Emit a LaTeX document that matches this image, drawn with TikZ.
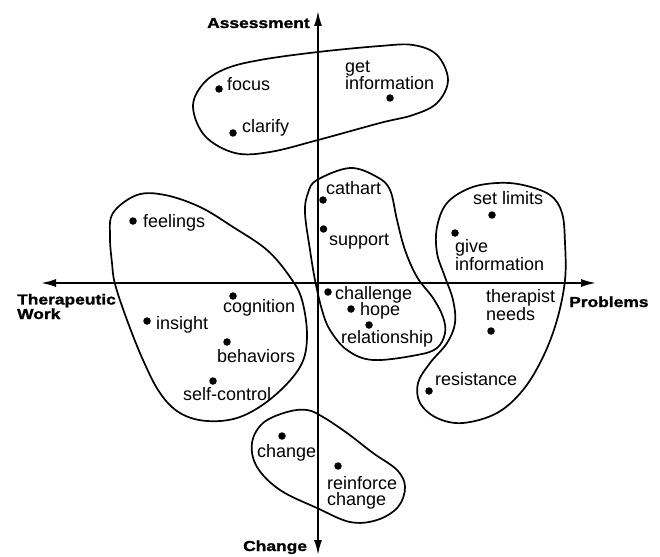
\documentclass[tikz,border=0pt]{standalone}
\usepackage{fontspec}
\setmainfont{Liberation Sans}
\newfontfamily\axisfont{Liberation Sans}[FakeStretch=1.2, BoldFeatures={FakeBold=1.5}]
\usetikzlibrary{arrows.meta}
\tikzset{
  dot/.style={circle, fill=black, inner sep=0pt, minimum size=7.5pt},
  lab/.style={inner sep=0pt, anchor=base west, align=left, font=\fontsize{18}{16}\selectfont},
  axlab/.style={inner sep=0pt, anchor=base west, align=left, font=\axisfont\bfseries\fontsize{14.5}{13.5}\selectfont},
  axis/.style={line width=1.8pt, -{Latex[length=15pt,width=8pt]}},
  blob/.style={line width=1.7pt}
}
\begin{document}
\begin{tikzpicture}[x=1pt,y=-1pt]
\useasboundingbox (0,0) rectangle (660,556);
% axes
\coordinate (origin) at (318,283);
\coordinate (up) at (318,11);
\coordinate (down) at (318,555);
\coordinate (left) at (41,283);
\coordinate (right) at (596,283);
\draw[axis] (origin) -- (up);
\draw[axis] (origin) -- (down);
\draw[axis] (origin) -- (left);
\draw[axis] (origin) -- (right);
\node[axlab] (assess) at (207,28) {Assessment};
\node[axlab] (chg) at (243,551) {Change};
\node[axlab] (ther) at (17,319) {Therapeutic\\Work};
\node[axlab] (prob) at (569,307) {Problems};
% blobs
\draw[blob] plot[smooth cycle, tension=0.6] coordinates {
 (193,107) (203,84) (225,69) (260,60) (318,52) (380,46) (413,45) (437,55) (448,80)
 (437,103) (413,115) (380,123) (318,140) (270,152) (235,153) (205,136)};
\draw[blob] plot[smooth cycle, tension=0.6] coordinates {
 (137,195) (113,213) (110,237) (112,263) (115,284) (127,320) (143,360) (160,393)
 (180,413) (207,421) (240,417) (273,397) (300,367) (307,337) (302,300) (290,277)
 (267,250) (233,227) (200,207) (165,195)};
\draw[blob] plot[smooth cycle, tension=0.6] coordinates {
 (350,168) (377,177) (390,190) (397,220) (405,250) (417,277) (433,298) (443,317)
 (445,333) (437,348) (417,355) (373,360) (347,350) (330,330) (322,310) (315,280)
 (310,250) (305,213) (308,193) (317,180)};
\draw[blob] plot[smooth cycle, tension=0.6] coordinates {
 (497,183) (523,185) (550,195) (562,213) (565,243) (565,280) (557,320) (543,357)
 (523,390) (497,413) (463,423) (437,418) (420,403) (418,383) (430,363) (447,343)
 (455,323) (453,300) (445,277) (437,253) (437,227) (447,203) (470,188)};
\draw[blob] plot[smooth cycle, tension=0.6] coordinates {
 (287,412) (263,423) (252,443) (257,467) (280,490) (317,508) (350,522) (377,520)
 (398,507) (405,487) (397,470) (373,453) (347,433) (323,417) (307,410)};
% items
\node[dot] (dfocus) at (219,89) {};
\node[lab] (tfocus) at (227,91) {focus};
\node[dot] (dclarify) at (233,133) {};
\node[lab] (tclarify) at (242,133) {clarify};
\node[dot] (dget) at (390,98) {};
\node[lab] (tget) at (345,90) {get\\information};
\node[dot] (dfeel) at (133,221) {};
\node[lab] (tfeel) at (143,227) {feelings};
\node[dot] (dcog) at (233,296) {};
\node[lab] (tcog) at (223,312) {cognition};
\node[dot] (dins) at (147,321) {};
\node[lab] (tins) at (156,329) {insight};
\node[dot] (dbeh) at (227,342) {};
\node[lab] (tbeh) at (217,362) {behaviors};
\node[dot] (dself) at (213,381) {};
\node[lab] (tself) at (183,400) {self-control};
\node[dot] (dcath) at (323,200) {};
\node[lab] (tcath) at (326,194) {cathart};
\node[dot] (dsup) at (323.5,229) {};
\node[lab] (tsup) at (329,245) {support};
\node[dot] (dchal) at (328,292) {};
\node[lab] (tchal) at (335,299) {challenge};
\node[dot] (dhope) at (351,309) {};
\node[lab] (thope) at (360,315) {hope};
\node[dot] (drel) at (369,325) {};
\node[lab] (trel) at (341,343) {relationship};
\node[dot] (dset) at (492,215) {};
\node[lab] (tset) at (473,204) {set limits};
\node[dot] (dgive) at (455,233) {};
\node[lab] (tgive) at (455,270) {give\\information};
\node[dot] (dther) at (491,331) {};
\node[lab] (tther) at (486,320) {therapist\\needs};
\node[dot] (dres) at (429,391) {};
\node[lab] (tres) at (435,385) {resistance};
\node[dot] (dchange) at (282,436) {};
\node[lab] (tchange) at (257,457) {change};
\node[dot] (dreinf) at (338,466) {};
\node[lab] (treinf) at (327,505) {reinforce\\change};
\end{tikzpicture}
\end{document}
